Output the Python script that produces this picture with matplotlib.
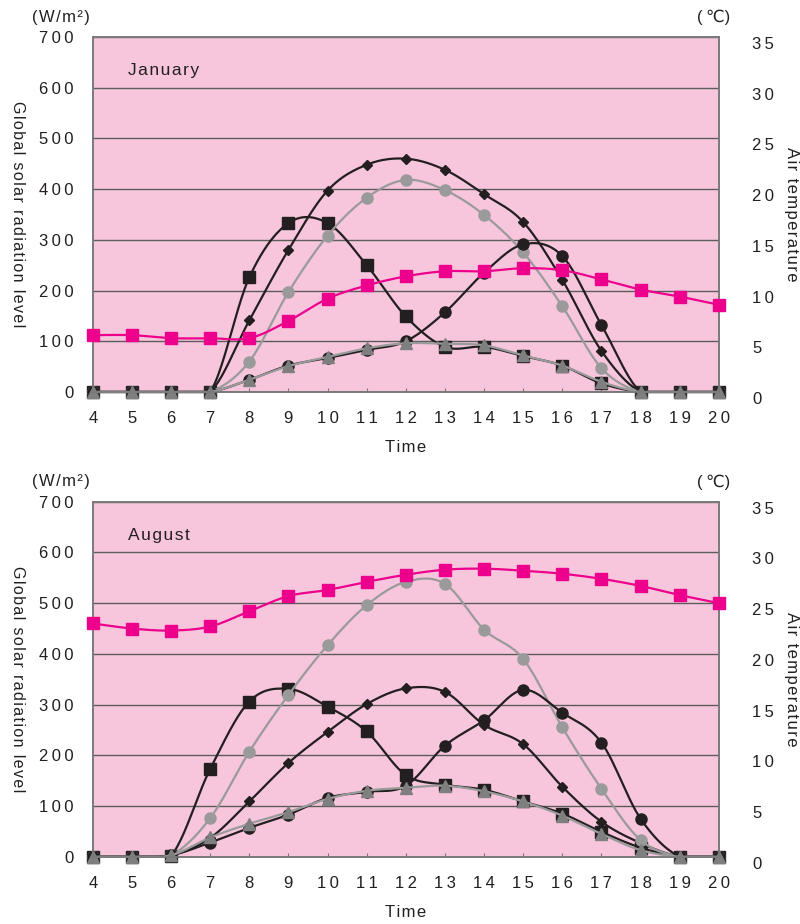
import numpy as np
import matplotlib.pyplot as plt

plt.rcParams['font.family'] = ['Liberation Sans', 'DejaVu Sans']

# hours of the day
hours = list(range(4, 21))

# January, global solar radiation (W/m2) on each surface
east_jan = [0, 0, 0, 0, 226, 333, 333, 250, 149, 89, 89, 71, 52, 17, 0, 0, 0]
south_jan = [0, 0, 0, 0, 141, 280, 397, 448, 460, 438, 390, 335, 221, 81, 0, 0, 0]
horiz_jan = [0, 0, 0, 0, 60, 197, 308, 383, 418, 398, 349, 275, 169, 47, 0, 0, 0]
west_jan = [0, 0, 0, 0, 24, 52, 67, 83, 100, 157, 235, 291, 268, 132, 0, 0, 0]
north_jan = [0, 0, 0, 0, 24, 51, 69, 86, 96, 95, 92, 72, 52, 20, 0, 0, 0]
# January air temperature (C)
temp_jan = [5.6, 5.6, 5.3, 5.3, 5.3, 7.0, 9.2, 10.5, 11.4, 11.9, 11.9, 12.2, 12.0, 11.1, 10.1, 9.4, 8.6]

# August
east_aug = [0, 0, 2, 173, 306, 331, 296, 247, 161, 142, 132, 109, 85, 49, 18, 0, 0]
south_aug = [0, 0, 3, 37, 109, 185, 246, 301, 332, 325, 260, 222, 138, 69, 27, 0, 0]
horiz_aug = [0, 0, 3, 76, 207, 319, 417, 496, 542, 538, 448, 390, 255, 134, 33, 0, 0]
west_aug = [0, 0, 3, 28, 57, 83, 116, 128, 140, 219, 269, 329, 284, 225, 75, 0, 0]
north_aug = [0, 0, 3, 38, 65, 88, 114, 130, 136, 140, 129, 109, 81, 45, 13, 0, 0]
temp_aug = [23.0, 22.5, 22.3, 22.7, 24.2, 25.7, 26.3, 27.1, 27.8, 28.3, 28.4, 28.2, 27.9, 27.4, 26.7, 25.8, 25.0]

rad_ticks = list(range(0, 701, 100))
temp_ticks = list(range(0, 36, 5))

black = '#231f20'
grey = '#9a9a9a'
grey_dark = '#7f7f7f'
pink = '#ec008c'
bg = '#f7c6dd'


def spaced(s, sep='\u200a'):
    return sep.join(s)


def smooth(x, y, k):
    # excel-like smoothed line, k makes y comparable with x on screen
    pts = np.column_stack([np.asarray(x, float), np.asarray(y, float) * k])
    n = len(pts)
    t = np.linspace(0, 1, 25)[1:, None]
    out = [pts[:1]]
    for i in range(n - 1):
        p0, p1 = pts[i], pts[i + 1]
        prev = pts[max(i - 1, 0)]
        nxt = pts[min(i + 2, n - 1)]
        seg = np.hypot(*(p1 - p0))
        a = (p1 - prev) / 6
        b = (nxt - p0) / 6
        la, lb = np.hypot(*a), np.hypot(*b)
        if la > seg / 2:
            a = a * seg / 2 / la
        if lb > seg / 2:
            b = b * seg / 2 / lb
        c1, c2 = p0 + a, p1 - b
        out.append((1 - t) ** 3 * p0 + 3 * (1 - t) ** 2 * t * c1
                   + 3 * (1 - t) * t ** 2 * c2 + t ** 3 * p1)
    out = np.vstack(out)
    # no undershoot below the zero line
    return out[:, 0], np.maximum(out[:, 1] / k, 0)


def series(ax, y, k, lc, mc, marker, ms, z):
    sx, sy = smooth(hours, y, k)
    ax.plot(sx, sy, color=lc, lw=1.6, clip_on=False, zorder=z)
    ax.plot(hours, y, ls='none', marker=marker, ms=ms, color=mc, mec=mc,
            clip_on=False, zorder=z + 0.5)


kw = 0.507 / 39.1
kt = 10.14 / 39.1

fig = plt.figure(figsize=(8, 9.24), dpi=100)


def panel(bottom, name, east, south, horiz, west, north, temp):
    ax = fig.add_axes([0.116, bottom, 0.7825, 0.3842])
    ax.set_facecolor(bg)
    ax.set_xlim(4, 20)
    ax.set_ylim(0, 700)
    ax.set_yticks(rad_ticks, [spaced(str(v), '\u2009') for v in rad_ticks])
    ax.set_xticks(hours, [spaced(str(h), '\u2009') for h in hours])
    ax.yaxis.grid(True, color='#5b5b5b', lw=1)
    ax.set_axisbelow(True)
    ax.tick_params(axis='y', length=0, pad=14, labelsize=12, labelcolor=black)
    ax.tick_params(axis='x', direction='in', length=3, color='#777777',
                   pad=14, labelsize=12, labelcolor=black)
    for s in ax.spines.values():
        s.set_color('#7a7a7a')
        s.set_linewidth(1.2)
    ax.set_xlabel(spaced('Time'), fontsize=12, labelpad=10, color=black)

    series(ax, east, kw, black, black, 's', 9, 3)
    series(ax, south, kw, black, black, 'D', 5, 4)
    series(ax, horiz, kw, grey, grey, 'o', 8, 5)
    series(ax, west, kw, black, black, 'o', 8, 6)
    series(ax, north, kw, grey, grey_dark, '^', 8.5, 7)

    ax2 = ax.twinx()
    ax2.set_ylim(0, 35)
    ax2.set_yticks(temp_ticks, [spaced(str(v), '\u2009') for v in temp_ticks])
    ax2.tick_params(axis='y', length=0, pad=24, labelsize=12, labelcolor=black)
    for lab in ax2.get_yticklabels():
        lab.set_verticalalignment('top')
    for s in ax2.spines.values():
        s.set_color('#7a7a7a')
        s.set_linewidth(1.2)
    series(ax2, temp, kt, pink, pink, 's', 8.5, 3)

    ax.text(4.9, 633, spaced(name), fontsize=12.5, color=black, va='center')
    ax.text(-0.0974, 1.056, spaced('(W/m²)'), transform=ax.transAxes,
            fontsize=12, color=black, va='center', ha='left')
    ax.text(1.0176, 1.056, '(\u2009℃)', transform=ax.transAxes,
            fontsize=12, color=black, va='center', ha='right')
    ax.text(-0.12, 0.5, spaced('Global solar radiation level'), transform=ax.transAxes,
            fontsize=11.5, color=black, rotation=270, va='center', ha='center')
    ax.text(1.1166, 0.5, spaced('Air temperature'), transform=ax.transAxes,
            fontsize=12, color=black, rotation=270, va='center', ha='center')


panel(0.5758, 'January', east_jan, south_jan, horiz_jan, west_jan, north_jan, temp_jan)
panel(0.0728, 'August', east_aug, south_aug, horiz_aug, west_aug, north_aug, temp_aug)

fig.savefig('out.png', dpi=100)
